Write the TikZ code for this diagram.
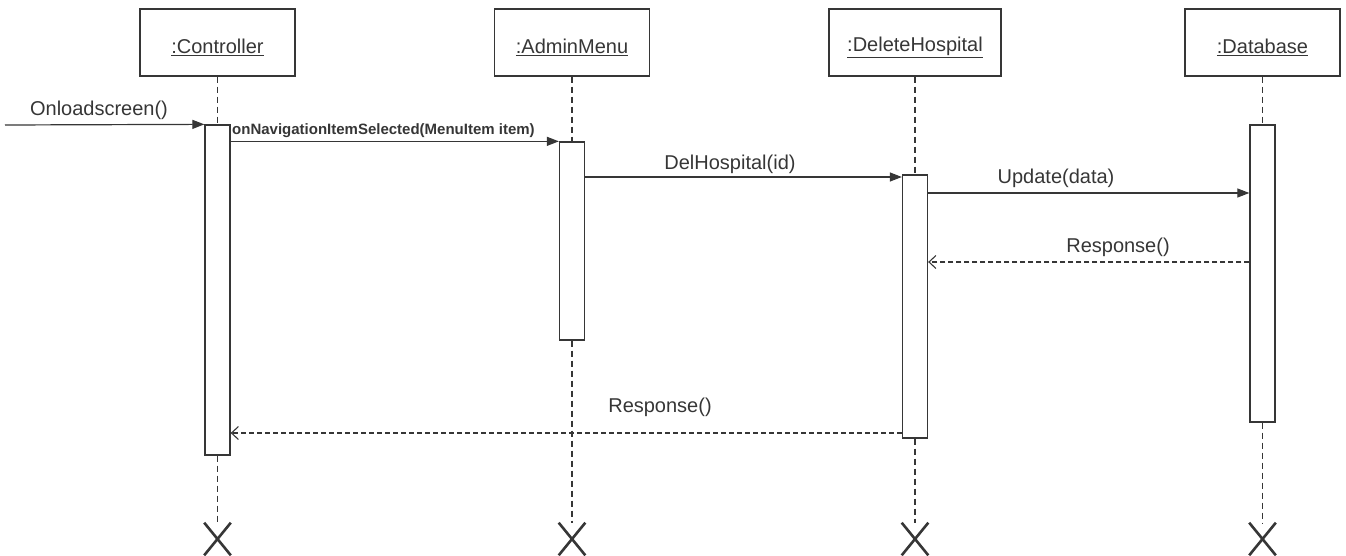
\documentclass[tikz,border=0pt]{standalone}
\usepackage{fontspec}
\setmainfont{Liberation Sans}
\usetikzlibrary{arrows.meta,shapes.misc}
\definecolor{ink}{HTML}{363636}
\begin{document}
\begin{tikzpicture}[x=1pt,y=-1pt,
  font=\fontsize{20}{24}\selectfont,
  obj/.style={draw=ink, line width=1.3pt, minimum height=67pt, minimum width=155pt, inner sep=0pt},
  act/.style={draw=ink, fill=white, line width=1.3pt, minimum width=25pt, inner sep=0pt},
  life/.style={draw=ink, line width=1.4pt, dash pattern=on 6pt off 4pt},
  msg/.style={draw=ink, line width=1.2pt, -{Triangle[length=12pt,width=9pt]}},
  ret/.style={draw=ink, line width=1.1pt, dash pattern=on 5pt off 3pt, -{Straight Barb[length=7pt,width=13pt]}},
  lbl/.style={text=ink, inner sep=0pt},
  kill/.style={cross out, draw=ink, line width=2.6pt, minimum width=24pt, minimum height=30pt, inner sep=0pt}]
\useasboundingbox (0,0) rectangle (1346,556);

% objects
\node[obj] (ctrl) at (217.5,42.5) {};
\node[obj] (admin) at (572,42.5) {};
\node[obj, minimum width=172pt] (del) at (915,42.5) {};
\node[obj] (db) at (1262.5,42.5) {};
\node[lbl] (ctrlT) at ([yshift=-5pt]ctrl.center) {\underline{:Controller}};
\node[lbl] (adminT) at ([yshift=-5pt]admin.center) {\underline{:AdminMenu}};
\node[lbl] (delT) at ([yshift=-5pt]del.center) {\underline{:DeleteHospital}};
\node[lbl] (dbT) at ([yshift=-5pt]db.center) {\underline{:Database}};

% activations
\node[act, minimum height=330pt] (ctrlA) at (217.5,290) {};
\node[act, minimum height=198pt] (adminA) at (572,241) {};
\node[act, minimum height=263pt] (delA) at (915,306.5) {};
\node[act, minimum height=297pt] (dbA) at (1262.5,273.5) {};

% destruction marks
\node[kill] (ctrlX) at (217.5,539) {};
\node[kill] (adminX) at (572,539) {};
\node[kill] (delX) at (915,539) {};
\node[kill] (dbX) at (1262.5,539) {};

% lifelines
\foreach \o in {ctrl,admin,del,db}{
  \draw[life] (\o.south) -- (\o A.north);
  \draw[life] (\o A.south) -- (\o X.north);
}

% message rows
\coordinate (start) at (5,125);
\coordinate (m3) at (0,177);
\coordinate (m4) at (0,193);
\coordinate (m5) at (0,262);
\coordinate (m6) at (0,433);

\draw[msg] (start) -- (ctrlA.north west);
\draw[msg] (ctrlA.east |- adminA.north) -- (adminA.north west);
\draw[msg] (adminA.east |- m3) -- (delA.west |- m3);
\draw[msg] (delA.east |- m4) -- (dbA.west |- m4);
\draw[ret] (dbA.west |- m5) -- (delA.east |- m5);
\draw[ret] (delA.west |- m6) -- (ctrlA.east |- m6);

% labels
\node[lbl] (l1) at (99,110) {Onloadscreen()};
\node[lbl, anchor=west, font=\bfseries\fontsize{15}{18}\selectfont] (l2) at (232,131) {onNavigationItemSelected(MenuItem item)};
\node[lbl] (l3) at (730,164) {DelHospital(id)};
\node[lbl] (l4) at (1056,178) {Update(data)};
\node[lbl] (l5) at (1118,247) {Response()};
\node[lbl] (l6) at (660,407) {Response()};
\end{tikzpicture}
\end{document}
